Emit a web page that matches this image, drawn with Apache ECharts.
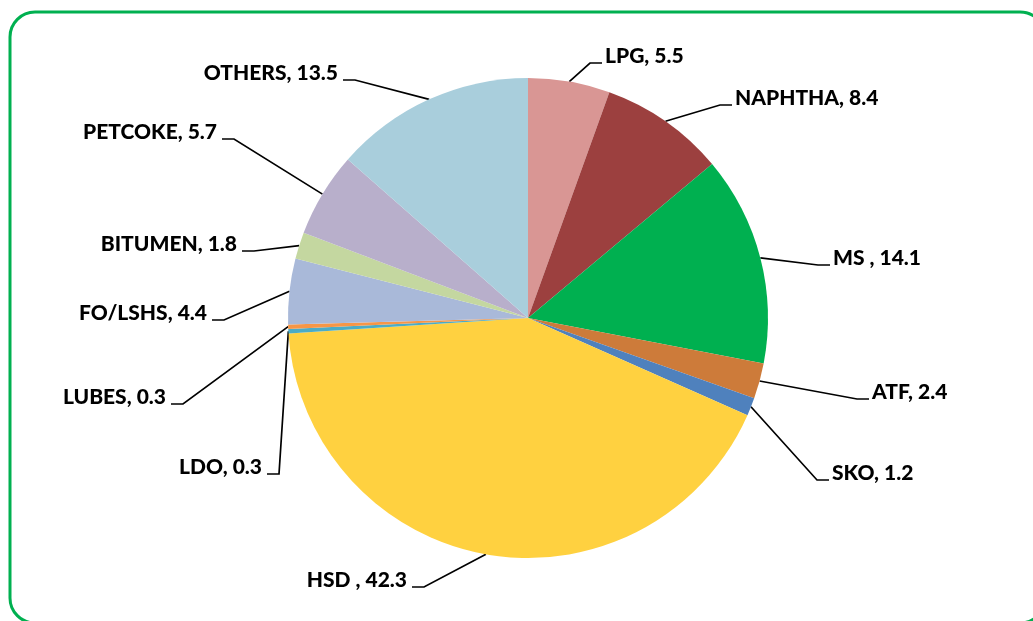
<!DOCTYPE html>
<html>
<head>
<meta charset="utf-8">
<script src="https://cdn.jsdelivr.net/npm/echarts@6/dist/echarts.min.js"></script>
<style>
html, body { margin: 0; padding: 0; background: #fff; }
#chart { width: 1033px; height: 621px; }
</style>
</head>
<body>
<div id="chart"></div>
<script>
// product shares, clockwise from 12 o'clock
var products = ['LPG', 'NAPHTHA', 'MS ', 'ATF', 'SKO', 'HSD ', 'LDO', 'LUBES', 'FO/LSHS', 'BITUMEN', 'PETCOKE', 'OTHERS'];
var shares = [5.5, 8.4, 14.1, 2.4, 1.2, 42.3, 0.3, 0.3, 4.4, 1.8, 5.7, 13.5];
var colors = ['#D99694', '#9C403F', '#00B050', '#CD7B3A', '#4F81BD', '#FFD140',
              '#4BACC6', '#F79646', '#A9B9D9', '#C4D7A0', '#B8AFCB', '#A9CEDC'];

// where each label sits (inner text edge, text middle) - placed like the excel chart
var labelSide = ['r', 'r', 'r', 'r', 'r', 'l', 'l', 'l', 'l', 'l', 'l', 'l'];
var labelAt = [[605, 56], [735, 98], [833, 258], [872, 392], [832, 473], [407, 580],
               [262, 467], [166, 397], [207, 313], [237, 244], [217, 132], [338, 73]];

var myChart = echarts.init(document.getElementById('chart'));

var pieData = [];
for (var i = 0; i < products.length; i++) {
	pieData.push({ name: products[i], value: shares[i], itemStyle: { color: colors[i] } });
}

var option = {
	animation: false,
	graphic: [{
		type: 'rect',
		z: -1,
		shape: { x: 10, y: 12, width: 1035, height: 611, r: 25 },
		style: { fill: 'none', stroke: '#00B050', lineWidth: 3 }
	}],
	series: [{
		type: 'pie',
		center: [528, 318],
		radius: 240,
		startAngle: 90,
		clockwise: true,
		avoidLabelOverlap: false,
		emphasis: { disabled: true },
		data: pieData,
		itemStyle: { borderWidth: 0 },
		label: {
			show: true,
			formatter: '{b}, {c}',
			fontFamily: 'Lato',
			fontWeight: 900,
			fontSize: 21,
			color: '#000'
		},
		labelLine: {
			show: true,
			length: 20,
			length2: 10,
			lineStyle: { color: '#000', width: 1.7 }
		},
		labelLayout: function (params) {
			var k = params.dataIndex;
			var pos = labelAt[k];
			var left = labelSide[k] == 'l';
			var segY = pos[1] + 7;
			var near = left ? pos[0] + 5 : pos[0] - 3;
			var far = left ? near + 12 : near - 12;
			var start = params.labelLinePoints ? params.labelLinePoints[0] : [far, segY];
			return {
				x: pos[0],
				y: pos[1],
				align: left ? 'right' : 'left',
				verticalAlign: 'middle',
				labelLinePoints: [start, [far, segY], [near, segY]]
			};
		}
	}]
};

myChart.setOption(option);
</script>
</body>
</html>
